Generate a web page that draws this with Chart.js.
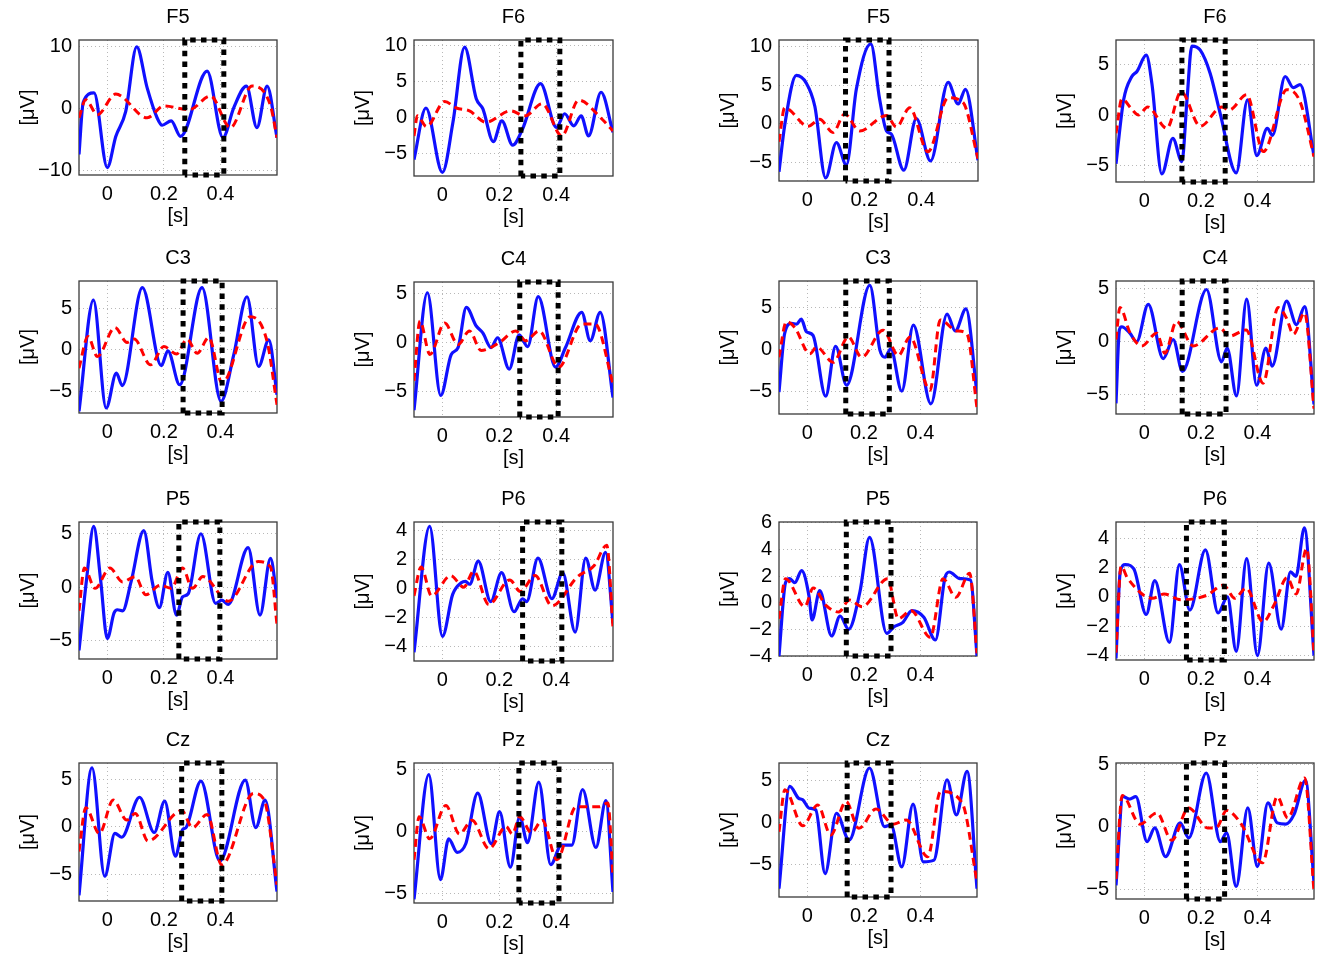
<!DOCTYPE html>
<html><head><meta charset="utf-8">
<script src="https://cdn.jsdelivr.net/npm/chart.js@4.4.1/dist/chart.umd.min.js"></script>
<style>
html,body{margin:0;padding:0;background:#fff;}
body{width:1319px;height:958px;position:relative;overflow:hidden;}
canvas{position:absolute;}
</style></head><body>
<script>
// ---------------- DATA ----------------
const channelTitles = ['F5','F6','F5','F6','C3','C4','C3','C4','P5','P6','P5','P6','Cz','Pz','Cz','Pz'];
const timeRange = [-0.1, 0.6];
const xTickValues = [0, 0.2, 0.4];
const yTickValues = [
  [-10,0,10],[-5,0,5,10],[-5,0,5,10],[-5,0,5],
  [-5,0,5],[-5,0,5],[-5,0,5],[-5,0,5],
  [-5,0,5],[-4,-2,0,2,4],[-4,-2,0,2,4,6],[-4,-2,0,2,4],
  [-5,0,5],[-5,0,5],[-5,0,5],[-5,0,5]
];
const yRanges = [
  [-10.7,11.0],[-8.2,10.8],[-7.4,10.9],[-6.6,7.4],
  [-7.6,8.3],[-7.6,6.2],[-7.6,8.1],[-6.8,5.7],
  [-6.7,6.1],[-5.0,4.6],[-4.0,6.05],[-4.3,5.1],
  [-7.8,6.7],[-5.8,5.55],[-8.9,7.1],[-5.8,5.1]
];
const windowStart = [0.274,0.276,0.134,0.133, 0.268,0.272,0.136,0.134, 0.253,0.282,0.138,0.149, 0.263,0.269,0.141,0.149];
const windowEnd   = [0.412,0.413,0.287,0.286, 0.406,0.407,0.290,0.289, 0.398,0.420,0.296,0.283, 0.405,0.410,0.296,0.284];

// [time s, amplitude µV]
const F5a_blue = [[-0.1,-7.4],[-0.085,1.0],[-0.047,2.5],[0.0,-9.5],[0.03,-4.5],[0.065,-0.5],[0.104,9.9],[0.141,3.3],[0.176,-1.5],[0.194,-2.7],[0.226,-2.0],[0.259,-4.5],[0.353,6.0],[0.409,-4.7],[0.447,0.1],[0.492,3.6],[0.529,-3.1],[0.565,3.6],[0.6,-4.7]];
const F5a_red  = [[-0.1,-1.5],[-0.076,1.4],[-0.035,-1.0],[0.03,2.3],[0.141,-1.5],[0.2,0.4],[0.29,-0.2],[0.365,2.0],[0.435,-3.1],[0.512,3.6],[0.576,0.6],[0.6,-4.7]];
const F6a_blue = [[-0.1,-5.9],[-0.058,1.3],[0.0,-7.7],[0.037,-0.7],[0.078,9.8],[0.119,2.6],[0.142,1.2],[0.179,-3.4],[0.209,-0.5],[0.247,-3.9],[0.281,-1.7],[0.345,4.7],[0.401,-1.4],[0.43,0.5],[0.462,-1.2],[0.488,0.2],[0.514,-2.6],[0.558,3.5],[0.6,-2.1]];
const F6a_red  = [[-0.1,-2.6],[-0.088,0.2],[-0.056,-1.3],[0.008,2.2],[0.049,1.3],[0.095,0.9],[0.153,-0.7],[0.24,0.9],[0.29,0.2],[0.351,1.9],[0.42,-2.6],[0.479,2.4],[0.56,-0.2],[0.6,-1.9]];
const F5b_blue = [[-0.1,-6.2],[-0.08,-0.2],[-0.039,6.3],[-0.004,5.3],[0.026,2.3],[0.064,-7.0],[0.102,-2.4],[0.137,-5.3],[0.172,4.5],[0.223,10.4],[0.254,3.2],[0.278,-0.9],[0.295,-1.3],[0.339,-6.0],[0.383,0.7],[0.433,-4.8],[0.495,5.4],[0.53,2.6],[0.556,4.5],[0.6,-4.7]];
const F5b_red  = [[-0.1,-2.3],[-0.08,2.1],[0.002,-0.3],[0.043,0.6],[0.09,-1.1],[0.131,1.3],[0.184,-0.9],[0.278,1.1],[0.313,-0.4],[0.36,2.1],[0.424,-3.6],[0.495,3.4],[0.547,2.8],[0.6,-4.5]];
const F6b_blue = [[-0.1,-4.8],[-0.073,1.5],[-0.044,3.8],[-0.026,4.3],[0.007,5.9],[0.027,3.1],[0.062,-5.8],[0.101,-2.3],[0.133,-4.6],[0.151,1.5],[0.168,6.8],[0.198,6.4],[0.233,4.1],[0.268,0.2],[0.325,-5.7],[0.365,1.5],[0.398,-4.0],[0.435,-1.3],[0.453,-2.0],[0.498,3.8],[0.527,2.7],[0.551,3.0],[0.6,-4.0]];
const F6b_red  = [[-0.1,-1.8],[-0.079,1.6],[-0.045,0.6],[-0.02,0.0],[0.012,0.8],[0.08,-1.3],[0.13,2.3],[0.198,-1.1],[0.274,0.8],[0.3,0.5],[0.362,2.0],[0.421,-3.6],[0.504,2.5],[0.551,1.3],[0.6,-4.1]];
const C3a_blue = [[-0.1,-7.4],[-0.049,6.0],[-0.004,-7.0],[0.032,-2.8],[0.053,-4.3],[0.124,7.5],[0.191,-1.9],[0.214,-0.1],[0.256,-4.2],[0.335,7.5],[0.402,-6.2],[0.447,-0.6],[0.494,6.4],[0.535,-2.0],[0.571,1.2],[0.6,-5.4]];
const C3a_red  = [[-0.1,-2.2],[-0.068,1.6],[-0.035,-0.8],[0.027,2.7],[0.07,0.9],[0.095,1.3],[0.153,-1.8],[0.2,0.4],[0.245,-0.5],[0.282,1.3],[0.318,-0.4],[0.359,1.5],[0.406,-4.0],[0.506,4.0],[0.565,1.0],[0.6,-6.6]];
const C4a_blue = [[-0.1,-6.9],[-0.053,5.1],[-0.006,-5.4],[0.031,-1.2],[0.055,-0.5],[0.084,3.6],[0.119,1.7],[0.142,1.0],[0.171,-0.5],[0.194,0.5],[0.235,-2.7],[0.27,0.8],[0.3,-0.4],[0.337,4.7],[0.398,-2.5],[0.433,-0.5],[0.49,3.1],[0.52,0.2],[0.555,3.1],[0.6,-5.6]];
const C4a_red  = [[-0.1,-3.9],[-0.079,2.2],[-0.044,-1.2],[0.008,2.0],[0.055,-0.2],[0.095,1.2],[0.136,-0.8],[0.2,0.0],[0.258,1.2],[0.293,0.2],[0.34,1.2],[0.409,-2.5],[0.49,1.9],[0.537,1.9],[0.6,-4.2]];
const C3b_blue = [[-0.1,-5.0],[-0.08,1.9],[-0.056,3.1],[-0.038,3.0],[-0.021,3.6],[-0.003,2.1],[0.02,1.7],[0.065,-5.5],[0.1,0.4],[0.139,-4.2],[0.221,7.6],[0.257,-0.1],[0.275,-0.9],[0.295,0.1],[0.334,-4.9],[0.375,2.9],[0.437,-6.4],[0.494,4.2],[0.523,2.2],[0.561,4.8],[0.6,-5.2]];
const C3b_red  = [[-0.1,-0.9],[-0.074,3.3],[-0.044,2.6],[0.009,-0.5],[0.033,0.3],[0.092,-1.5],[0.145,1.5],[0.192,-0.9],[0.268,2.3],[0.322,-0.7],[0.363,1.5],[0.434,-4.8],[0.47,3.5],[0.529,2.2],[0.564,1.9],[0.6,-6.9]];
const C4b_blue = [[-0.1,-5.8],[-0.088,1.1],[-0.08,1.4],[-0.051,0.8],[-0.027,0.0],[0.014,3.5],[0.067,-1.6],[0.102,0.2],[0.135,-2.8],[0.22,4.9],[0.273,-1.9],[0.293,-0.6],[0.326,-5.1],[0.362,4.0],[0.397,-4.1],[0.43,-0.6],[0.452,-2.3],[0.503,3.8],[0.538,1.6],[0.567,3.3],[0.6,-5.9]];
const C4b_red  = [[-0.1,0.2],[-0.086,3.2],[-0.05,0.8],[-0.009,-0.4],[0.044,0.8],[0.073,-1.1],[0.114,1.9],[0.173,-0.4],[0.267,1.3],[0.3,0.5],[0.36,1.1],[0.42,-3.9],[0.473,3.2],[0.503,2.2],[0.527,0.7],[0.567,2.7],[0.6,-6.3]];
const P5a_blue = [[-0.1,-5.9],[-0.073,0.8],[-0.048,5.7],[-0.024,0.8],[0.0,-4.8],[0.024,-2.4],[0.036,-2.1],[0.054,-2.2],[0.084,0.5],[0.129,5.3],[0.159,0.5],[0.184,-1.9],[0.214,1.4],[0.245,-2.6],[0.266,-0.9],[0.286,-0.6],[0.331,5.0],[0.383,-1.5],[0.405,-1.2],[0.428,-1.6],[0.498,3.7],[0.54,-2.6],[0.577,2.7],[0.6,-1.0]];
const P5a_red  = [[-0.1,-2.2],[-0.081,1.8],[-0.043,-0.1],[0.009,1.8],[0.054,0.5],[0.099,1.0],[0.136,-0.7],[0.188,0.2],[0.226,-0.1],[0.266,1.8],[0.301,-0.1],[0.338,1.0],[0.428,-1.3],[0.533,2.4],[0.577,1.9],[0.6,-3.5]];
const P6a_blue = [[-0.1,-4.4],[-0.045,4.3],[0.0,-3.3],[0.036,-0.4],[0.066,0.4],[0.081,0.5],[0.096,0.3],[0.126,1.9],[0.17,-0.9],[0.208,1.1],[0.252,-1.6],[0.282,-0.7],[0.296,-0.9],[0.336,2.1],[0.385,-0.7],[0.423,1.1],[0.467,-3.0],[0.504,2.1],[0.537,-0.1],[0.574,2.5],[0.6,-2.4]];
const P6a_red  = [[-0.1,-0.5],[-0.075,1.5],[-0.038,-0.5],[0.029,0.9],[0.075,0.1],[0.11,1.2],[0.163,-1.1],[0.237,0.6],[0.274,-0.2],[0.326,0.9],[0.385,-1.2],[0.474,0.8],[0.534,1.6],[0.578,3.0],[0.6,-2.7]];
const P5b_blue = [[-0.1,-4.0],[-0.077,1.5],[-0.062,1.8],[-0.044,1.5],[-0.02,2.4],[0.006,0.5],[0.017,-1.3],[0.044,0.9],[0.086,-2.5],[0.116,-1.0],[0.146,-2.0],[0.186,0.8],[0.22,4.9],[0.281,-2.3],[0.307,-1.8],[0.337,-1.5],[0.37,-0.6],[0.412,-1.1],[0.453,-2.8],[0.487,1.9],[0.502,2.3],[0.54,1.8],[0.577,1.7],[0.6,-4.0]];
const P5b_red  = [[-0.1,-1.2],[-0.077,1.8],[-0.009,-0.3],[0.021,1.1],[0.066,-0.2],[0.111,-0.7],[0.149,0.2],[0.194,-0.3],[0.284,1.8],[0.322,-1.2],[0.367,-0.6],[0.435,-2.6],[0.48,1.8],[0.525,0.4],[0.574,2.2],[0.6,-3.8]];
const P6b_blue = [[-0.1,-4.2],[-0.085,1.7],[-0.067,2.2],[-0.037,1.9],[0.007,-1.2],[0.037,1.1],[0.089,-3.1],[0.124,2.2],[0.161,-0.9],[0.216,3.2],[0.261,-1.1],[0.294,0.0],[0.325,-3.7],[0.362,2.6],[0.4,-4.0],[0.44,2.3],[0.484,-2.2],[0.517,1.7],[0.536,1.4],[0.566,4.7],[0.6,-4.0]];
const P6b_red  = [[-0.1,-3.8],[-0.082,2.1],[-0.06,1.3],[0.03,-0.1],[0.07,0.2],[0.13,-0.2],[0.22,0.1],[0.28,0.8],[0.32,-0.1],[0.36,0.6],[0.42,-1.7],[0.46,-0.5],[0.505,1.3],[0.537,0.2],[0.574,3.3],[0.6,-3.8]];
const Cza_blue = [[-0.1,-7.2],[-0.054,6.2],[-0.009,-5.2],[0.027,-0.7],[0.051,-1.1],[0.114,3.1],[0.166,-0.6],[0.203,2.7],[0.241,-3.1],[0.266,-0.3],[0.278,-0.1],[0.331,4.8],[0.398,-3.6],[0.488,4.9],[0.525,-0.1],[0.558,2.8],[0.6,-6.8]];
const Cza_red  = [[-0.1,-2.6],[-0.076,2.0],[-0.028,-0.7],[0.021,2.8],[0.069,0.7],[0.099,1.4],[0.144,-1.5],[0.263,1.7],[0.301,-0.1],[0.353,1.3],[0.405,-4.0],[0.517,3.5],[0.555,2.8],[0.6,-6.1]];
const Pza_blue = [[-0.1,-5.5],[-0.048,4.6],[-0.007,-3.9],[0.022,-0.6],[0.052,-1.7],[0.082,-1.0],[0.124,3.1],[0.172,-1.0],[0.201,1.6],[0.239,-2.9],[0.272,1.2],[0.299,-0.9],[0.339,4.0],[0.381,-2.7],[0.418,-1.1],[0.455,-1.1],[0.493,3.4],[0.54,-1.3],[0.575,2.5],[0.6,-4.9]];
const Pza_red  = [[-0.1,-2.3],[-0.082,1.2],[-0.045,-0.6],[0.012,2.1],[0.06,-0.2],[0.104,0.9],[0.164,-1.4],[0.224,0.4],[0.246,-0.2],[0.272,1.2],[0.313,-0.1],[0.351,0.9],[0.403,-2.3],[0.47,2.0],[0.552,2.0],[0.582,2.3],[0.6,-3.7]];
const Czb_blue = [[-0.1,-7.9],[-0.062,4.3],[-0.031,2.9],[-0.016,2.7],[0.007,1.7],[0.03,1.5],[0.063,-6.1],[0.103,1.1],[0.148,-2.1],[0.22,6.5],[0.273,-0.5],[0.296,-0.3],[0.334,-5.3],[0.374,2.2],[0.41,-4.7],[0.448,-4.5],[0.494,5.1],[0.527,0.9],[0.565,6.1],[0.6,-7.9]];
const Czb_red  = [[-0.1,-1.1],[-0.079,3.9],[-0.016,-0.4],[0.037,2.1],[0.083,-1.5],[0.137,2.5],[0.182,-0.7],[0.243,1.6],[0.304,-0.2],[0.35,0.3],[0.426,-4.1],[0.471,3.7],[0.548,2.3],[0.6,-7.1]];
const Pzb_blue = [[-0.1,-4.7],[-0.075,2.4],[-0.052,2.2],[-0.03,2.4],[0.01,-1.2],[0.037,-0.1],[0.075,-2.4],[0.127,0.3],[0.157,-0.9],[0.219,4.3],[0.269,-1.2],[0.291,-0.5],[0.325,-4.8],[0.366,1.5],[0.4,-3.2],[0.437,1.9],[0.47,0.3],[0.5,0.2],[0.53,1.0],[0.57,3.7],[0.6,-4.5]];
const Pzb_red  = [[-0.1,-4.2],[-0.078,2.5],[-0.015,0.2],[0.045,1.1],[0.097,-1.1],[0.157,1.5],[0.224,-0.1],[0.254,-0.1],[0.291,1.3],[0.343,0.2],[0.418,-2.9],[0.47,2.4],[0.507,0.7],[0.567,3.9],[0.6,-5.2]];

const blueSeries = [F5a_blue,F6a_blue,F5b_blue,F6b_blue,C3a_blue,C4a_blue,C3b_blue,C4b_blue,P5a_blue,P6a_blue,P5b_blue,P6b_blue,Cza_blue,Pza_blue,Czb_blue,Pzb_blue];
const redSeries  = [F5a_red,F6a_red,F5b_red,F6b_red,C3a_red,C4a_red,C3b_red,C4b_red,P5a_red,P6a_red,P5b_red,P6b_red,Cza_red,Pza_red,Czb_red,Pzb_red];

// ---------------- LAYOUT (plot-box pixel frames: left, top, right, bottom) ----------------
const frames = [
  [79,40,277,175],[414,40,613,176],[779,40,978,181],[1116,40,1314,182],
  [79,281,277,413],[414,282,613,417],[779,281,977,414],[1116,281,1314,414],
  [79,522,277,659],[414,522,613,661],[779,522,977,656],[1116,522,1314,660],
  [79,763,277,901],[414,763,613,903],[779,763,977,897],[1116,763,1314,899]
];
const FS = 20;
const PAD_L = 63, PAD_T = 35, PAD_B = 53, PAD_R = 4;
const FONT = "'Liberation Sans', Arial, Helvetica, sans-serif";

function fmt(v){ const r = Math.round(v*10)/10; return r < 0 ? '\u2212' + Math.abs(r) : String(r); }
const toXY = a => a.map(p => ({x:p[0], y:p[1]}));

const framePlugin = {
  id:'frame',
  beforeDatasetsDraw(chart){
    const {ctx, chartArea:a} = chart;
    ctx.save();
    ctx.strokeStyle = '#3a3a3a';
    ctx.lineWidth = 1.3;
    ctx.strokeRect(a.left, a.top, a.right - a.left, a.bottom - a.top);
    ctx.restore();
  }
};

frames.forEach((f, i) => {
  const [L, T, R, B] = f;
  const c = document.createElement('canvas');
  c.width = (R - L) + PAD_L + PAD_R;
  c.height = (B - T) + PAD_T + PAD_B;
  c.style.left = (L - PAD_L) + 'px';
  c.style.top = (T - PAD_T) + 'px';
  document.body.appendChild(c);
  const [y0, y1] = yRanges[i];
  const t0 = windowStart[i], t1 = windowEnd[i];
  new Chart(c, {
    type: 'line',
    data: {
      datasets: [
        { label:'window', data:[{x:t0,y:y0},{x:t0,y:y1},{x:t1,y:y1},{x:t1,y:y0},{x:t0,y:y0}],
          borderColor:'#000', borderWidth:5, borderDash:[5.5,5.3], borderCapStyle:'butt',
          pointRadius:0, tension:0, clip:false, fill:false },
        { label:'red', data: toXY(redSeries[i]), borderColor:'#ff0000', borderWidth:3, borderDash:[8,5],
          pointRadius:0, cubicInterpolationMode:'monotone', fill:false },
        { label:'blue', data: toXY(blueSeries[i]), borderColor:'#1010ff', borderWidth:3.2,
          pointRadius:0, cubicInterpolationMode:'monotone', fill:false }
      ]
    },
    options: {
      responsive:false, animation:false, events:[],
      layout:{padding:{left:0, right:PAD_R, top:0, bottom:0}},
      plugins:{
        legend:{display:false}, tooltip:{enabled:false},
        title:{display:true, text:channelTitles[i], fullSize:false, color:'#000',
               font:{family:FONT, size:FS, weight:'normal'}, padding:{top:0, bottom:PAD_T - FS*1.2}}
      },
      scales:{
        x:{ type:'linear', min:timeRange[0], max:timeRange[1],
            afterBuildTicks: s => { s.ticks = xTickValues.map(v => ({value:v})); },
            afterFit: s => { s.height = PAD_B; },
            ticks:{ callback: v => fmt(v), color:'#000', font:{family:FONT, size:FS}, padding:7, maxRotation:0, autoSkip:false },
            grid:{ color:'#b8b8b8', lineWidth:1, drawTicks:false },
            border:{ display:false, dash:[1,3] },
            title:{ display:true, text:'[s]', color:'#000', font:{family:FONT, size:FS}, padding:0 } },
        y:{ type:'linear', min:y0, max:y1,
            afterBuildTicks: s => { s.ticks = yTickValues[i].map(v => ({value:v})); },
            afterFit: s => { s.width = PAD_L; },
            ticks:{ callback: v => fmt(v), color:'#000', font:{family:FONT, size:FS}, padding:7, autoSkip:false },
            grid:{ color:'#b8b8b8', lineWidth:1, drawTicks:false },
            border:{ display:false, dash:[1,3] },
            title:{ display:true, text:'[\u03bcV]', color:'#000', font:{family:FONT, size:FS}, padding:0 } }
      }
    },
    plugins:[framePlugin]
  });
});
</script>
</body></html>
